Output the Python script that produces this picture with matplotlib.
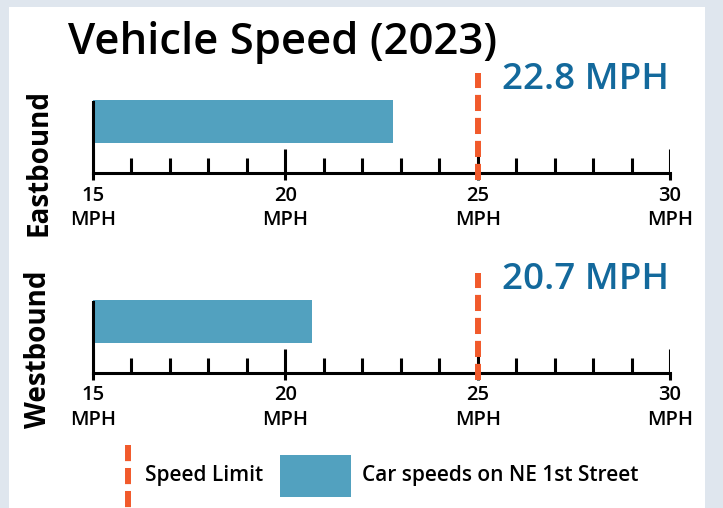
import matplotlib.pyplot as plt
from matplotlib.patches import Rectangle

# data
directions = ["Eastbound", "Westbound"]
avg_speeds = [22.8, 20.7]
speed_limit = 25
x_range = (15, 30)
major_ticks = [15, 20, 25, 30]
minor_ticks = [16, 17, 18, 19, 21, 22, 23, 24, 26, 27, 28, 29]
tick_labels = ["15\nMPH", "20\nMPH", "25\nMPH", "30\nMPH"]
legend_labels = ["Speed Limit", "Car speeds on NE 1st Street"]

BAR = "#52a1bf"
LIMIT = "#f15a2b"
VALUE = "#13699c"
BG = "#dfe6ee"
FONT = ["Open Sans", "DejaVu Sans"]

plt.rcParams["font.family"] = FONT

W, H = 723, 508
fig = plt.figure(figsize=(W / 100, H / 100), dpi=100)
fig.patch.set_facecolor(BG)
fig.add_artist(Rectangle((9 / W, 0), 696 / W, 1 - 7 / H, transform=fig.transFigure,
                         facecolor="white", edgecolor="none", zorder=0))

fig.text(68 / W, 1 - 42 / H, "Vehicle Speed (2023)", fontsize=31.5, fontweight="semibold",
         va="center", ha="left")


def px_box(top, base):
    return [93 / W, 1 - base / H, 577 / W, (base - top) / H]


baselines = [173, 373]
for name, speed, base, ylab_y in zip(directions, avg_speeds, baselines, [162, 349]):
    ax = fig.add_axes(px_box(base - 100, base))
    ax.set_xlim(*x_range)
    ax.set_ylim(0, 1)
    ax.patch.set_alpha(0)
    for s in ["top", "right"]:
        ax.spines[s].set_visible(False)
    ax.spines["bottom"].set_linewidth(2.2)
    ax.spines["left"].set_linewidth(2.2)
    ax.spines["left"].set_bounds(0, 0.71)
    ax.set_yticks([])

    ax.barh(0.515, speed - x_range[0], left=x_range[0], height=0.43, color=BAR, zorder=2)

    ax.set_xticks(major_ticks)
    ax.set_xticklabels(tick_labels, fontsize=14.5, fontweight="semibold", linespacing=1.3)
    ax.set_xticks(minor_ticks, minor=True)
    ax.tick_params(which="major", direction="out", length=5, width=2.2, pad=4)
    ax.tick_params(which="minor", direction="in", length=11, width=2.2)
    ax.vlines(major_ticks, 0, 0.24, color="black", linewidth=2.2, zorder=3)

    ax.axvline(speed_limit, ymin=-0.065, ymax=1.0, color=LIMIT, linewidth=4.3,
               dashes=(2.7, 1.15), clip_on=False, zorder=4)
    ax.text(25.63, 0.93, f"{speed} MPH", color=VALUE, fontsize=26.5, fontweight="semibold",
            ha="left", va="center")

    fig.text(39 / W, 1 - ylab_y / H, name, rotation=90, fontsize=20, fontweight="bold",
             ha="center", va="center")

# legend
lax = fig.add_axes([0, 0, 1, 1 - 440 / H])
lax.set_xlim(0, W)
lax.set_ylim(508, 440)
lax.axis("off")
lax.plot([128, 128], [445, 508], color=LIMIT, linewidth=4.3, dashes=(2.7, 1.15))
lax.text(145, 476, legend_labels[0], fontsize=15, fontweight="semibold", va="center")
lax.add_patch(Rectangle((280, 455), 71, 42, facecolor=BAR, edgecolor="none"))
lax.text(362, 476, legend_labels[1], fontsize=15, fontweight="semibold", va="center")

fig.savefig("out.png", dpi=100, facecolor=BG)
